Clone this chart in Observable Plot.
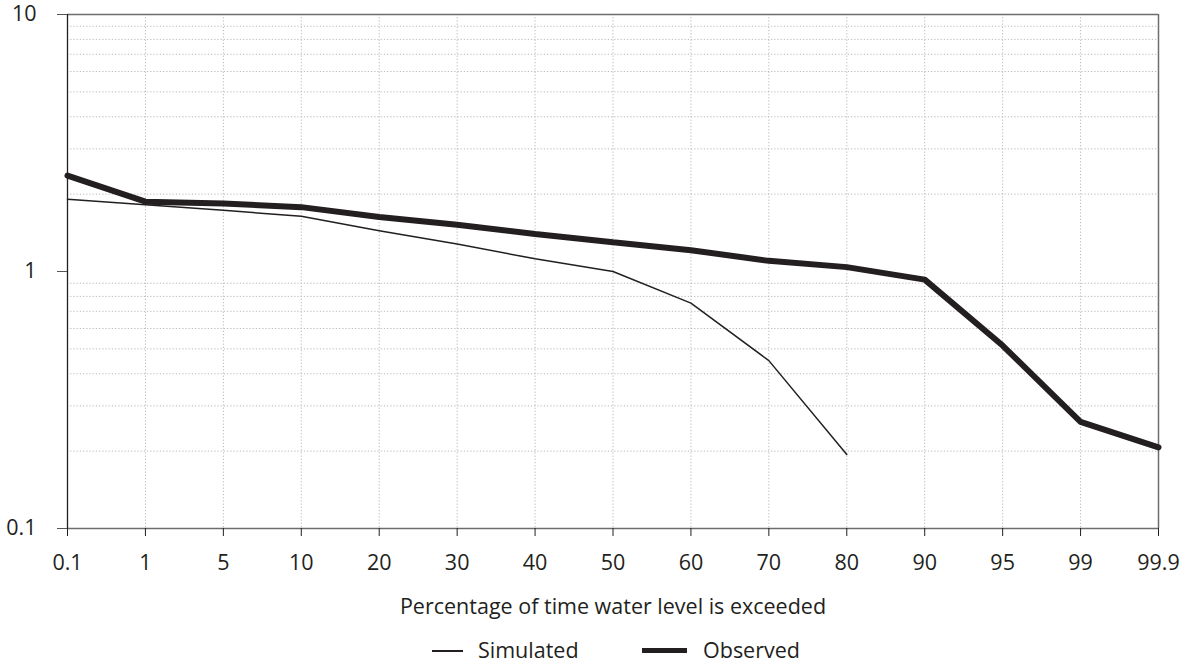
<!DOCTYPE html>
<html>
<head>
<meta charset="utf-8">
<script src="https://cdn.jsdelivr.net/npm/d3@7"></script>
<script src="https://cdn.jsdelivr.net/npm/@observablehq/plot@0.6"></script>
<style>
  html, body { margin: 0; padding: 0; background: #fff; }
  #wrap { position: relative; width: 1182px; height: 662px; font-family: "Open Sans", sans-serif; color: #231f20; }
  #legend { position: absolute; left: 0; top: 630px; width: 1182px; height: 32px; font-size: 21.5px; }
  .sw { position: absolute; background: #231f20; }
  .lt { position: absolute; line-height: 20px; height: 20px; }
</style>
</head>
<body>
<div id="wrap">
  <div id="chart"></div>
  <div id="legend">
    <div class="sw" style="left:432px; top:20px; width:31px; height:1.5px;"></div>
    <div class="lt" style="left:478px; top:10px;">Simulated</div>
    <div class="sw" style="left:642px; top:18px; width:45px; height:5px;"></div>
    <div class="lt" style="left:703px; top:10px;">Observed</div>
  </div>
</div>
<script>
const categories = ["0.1", "1", "5", "10", "20", "30", "40", "50", "60", "70", "80", "90", "95", "99", "99.9"];
const observed = [2.36, 1.87, 1.84, 1.78, 1.63, 1.52, 1.40, 1.30, 1.21, 1.10, 1.04, 0.93, 0.515, 0.26, 0.207];
const simulatedCats = ["0.1", "1", "5", "10", "20", "30", "40", "50", "60", "70", "80"];
const simulated = [1.91, 1.82, 1.73, 1.64, 1.44, 1.28, 1.12, 1.0, 0.753, 0.45, 0.194];
const yTicks = [0.1, 1, 10];
const yTickLabels = ["0.1", "1", "10"];
const minorGrid = [0.2, 0.3, 0.4, 0.5, 0.6, 0.7, 0.8, 0.9, 2, 3, 4, 5, 6, 7, 8, 9];
const xLabel = "Percentage of time water level is exceeded";

const obsData = categories.map((c, i) => ({x: c, y: observed[i]}));
const simData = simulatedCats.map((c, i) => ({x: c, y: simulated[i]}));

const FS = 21.5;
const chart = Plot.plot({
  width: 1182,
  height: 630,
  marginLeft: 67,
  marginRight: 24,
  marginTop: 14,
  marginBottom: 102,
  style: { fontFamily: "Open Sans, sans-serif", fontSize: FS + "px", color: "#231f20", background: "#fff", overflow: "visible" },
  x: { type: "point", domain: categories, padding: 0, round: false },
  y: { type: "log", domain: [0.1, 10] },
  marks: [
    Plot.ruleY(minorGrid, { stroke: "#b8b8b8", strokeDasharray: "1.2,2", strokeWidth: 1 }),
    Plot.ruleX(categories, { stroke: "#b8b8b8", strokeDasharray: "1.2,2", strokeWidth: 1 }),
    Plot.ruleY([0.1, 10], { stroke: "#6d6d6d", strokeWidth: 1.5 }),
    Plot.ruleX(["99.9"], { stroke: "#6d6d6d", strokeWidth: 1.5 }),
    Plot.ruleX(["0.1"], { stroke: "#231f20", strokeWidth: 1.3 }),
    Plot.axisY({ ticks: yTicks, tickFormat: (d) => yTickLabels[yTicks.indexOf(d)], tickSize: 10, tickPadding: 21, stroke: "#555", label: null, fontSize: FS, fill: "#231f20" }),
    Plot.axisX({ tickSize: 8, tickPadding: 18, stroke: "#231f20", label: null, fontSize: FS, fill: "#231f20" }),
    Plot.line(simData, { x: "x", y: "y", stroke: "#231f20", strokeWidth: 1.5 }),
    Plot.line(obsData, { x: "x", y: "y", stroke: "#231f20", strokeWidth: 6, strokeLinejoin: "miter" }),
    Plot.text([xLabel], { frameAnchor: "bottom", dy: 85, fontSize: FS, fill: "#231f20" })
  ]
});
document.getElementById("chart").appendChild(chart);
</script>
</body>
</html>
